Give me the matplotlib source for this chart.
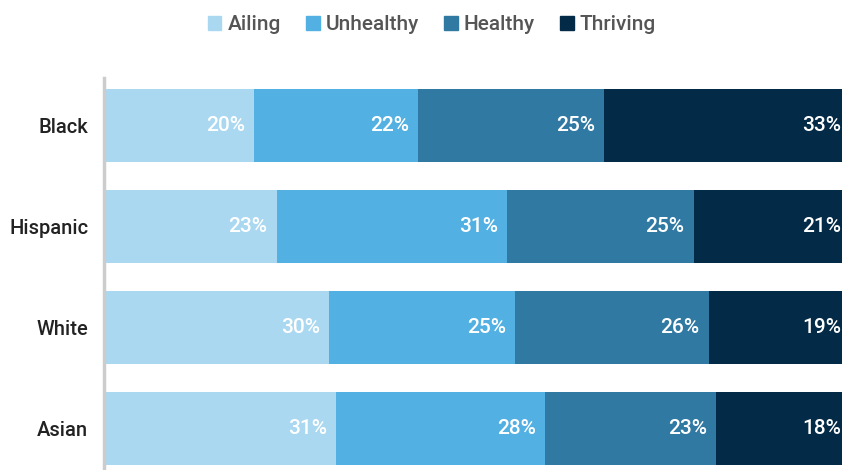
import matplotlib.pyplot as plt
from matplotlib.patches import Patch

groups = ['Black', 'Hispanic', 'White', 'Asian']
series = ['Ailing', 'Unhealthy', 'Healthy', 'Thriving']
ailing = [20, 23, 30, 31]
unhealthy = [22, 31, 25, 28]
healthy = [25, 25, 26, 23]
thriving = [33, 21, 19, 18]
values = [ailing, unhealthy, healthy, thriving]
colors = ['#aad8f1', '#53b0e3', '#2f79a3', '#032b47']

plt.rcParams['font.family'] = ['Roboto', 'DejaVu Sans']
plt.rcParams['font.weight'] = 'medium'

fig = plt.figure(figsize=(8.42, 4.70), dpi=100)
# the original chart runs a little past the right edge of the image
ax = fig.add_axes([103.5 / 842, 0, (850 - 103.5) / 842, 1 - 78 / 470])

y = list(range(len(groups)))
left = [0] * len(groups)
for vals, col in zip(values, colors):
    ax.barh(y, vals, left=left, height=0.72, color=col, linewidth=0)
    for i, v in enumerate(vals):
        ax.annotate(f'{v}%', (left[i] + v, i), xytext=(-6.5, 0), textcoords='offset points',
                    ha='right', va='center', color='white', fontsize=15, fontweight='medium')
    left = [l + v for l, v in zip(left, vals)]

ax.set_xlim(-0.25, 100)
ax.set_ylim(3.411, -0.47)
ax.set_yticks(y)
ax.set_yticklabels(groups, fontsize=14.5, color='#222222', fontweight='medium')
ax.tick_params(axis='y', length=0, pad=11)
ax.set_xticks([])
for s in ['top', 'right', 'bottom']:
    ax.spines[s].set_visible(False)
ax.spines['left'].set_color('#cccccc')
ax.spines['left'].set_linewidth(2.5)

handles = [Patch(color=c, label=s) for c, s in zip(colors, series)]
leg = fig.legend(handles=handles, loc='center', bbox_to_anchor=(0.513, 1 - 25 / 470), ncol=4,
                 frameon=False, prop={'size': 15, 'weight': 'medium'}, handlelength=0.65,
                 handleheight=0.65, handletextpad=0.3, columnspacing=1.2)
for t in leg.get_texts():
    t.set_color('#555555')

fig.savefig('out.png', dpi=100)
